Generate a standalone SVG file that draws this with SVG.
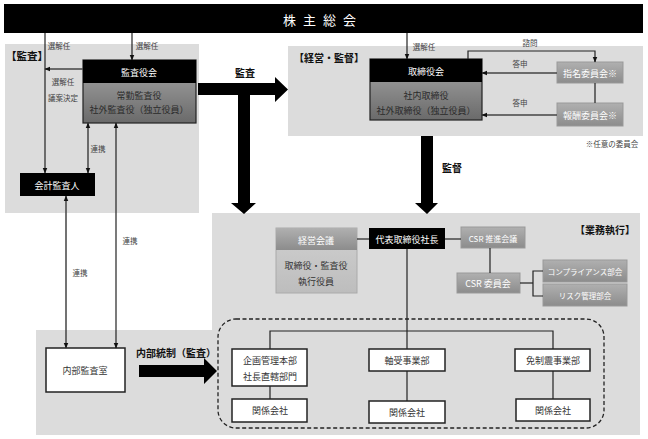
<svg xmlns="http://www.w3.org/2000/svg" width="648" height="439" viewBox="0 0 648 439">
<defs>
<marker id="ah" viewBox="0 0 10 10" refX="9" refY="5" markerWidth="6" markerHeight="6" orient="auto-start-reverse" markerUnits="userSpaceOnUse"><path d="M0,1 L10,5 L0,9 Z" fill="#111"/></marker>
<linearGradient id="g1" x1="0" y1="0" x2="0" y2="1"><stop offset="0" stop-color="#b0b0b0"/><stop offset="1" stop-color="#8c8c8c"/></linearGradient>
<linearGradient id="g2" x1="0" y1="0" x2="0" y2="1"><stop offset="0" stop-color="#a8a8a8"/><stop offset="1" stop-color="#6a6a6a"/></linearGradient>
<linearGradient id="g3" x1="0" y1="0" x2="0" y2="1"><stop offset="0" stop-color="#d0d0d0"/><stop offset="1" stop-color="#bdbdbd"/></linearGradient>
<style>
text{font-family:"Noto Sans CJK JP","Noto Sans",sans-serif;font-size:9px;fill:#333;text-anchor:middle;dominant-baseline:central}
.w{fill:#fff}
.b{font-weight:bold;font-size:10px;fill:#111}
.s{font-size:7.5px;fill:#444}
.l{fill:none;stroke:#222;stroke-width:1.2}
.lg{fill:none;stroke:#444;stroke-width:1.5}
.blk{fill:#000}
.gb{fill:url(#g1);stroke:#999;stroke-width:1}
.wb{fill:#fff;stroke:#222;stroke-width:1.5}
.panel{fill:#dcdcdc}
</style>
</defs>

<!-- panels -->
<rect class="panel" x="5" y="44" width="194" height="169"/>
<rect class="panel" x="288" y="46" width="355" height="90"/>
<path class="panel" d="M212,213 H640 V435 H36 V330 H212 Z"/>
<text class="b" x="27" y="55" style="font-size:10.5px">【監査】</text>
<text class="b" x="329" y="57">【経営・監督】</text>
<text class="b" x="605" y="229">【業務執行】</text>
<text class="s" x="612" y="143">※任意の委員会</text>

<g id="shareholders">
<rect class="blk" x="4" y="4" width="639" height="29"/>
<text class="w" x="323" y="19" style="font-size:13px;letter-spacing:7px">株主総会</text>
</g>

<g id="kansayakukai">
<rect x="83" y="60" width="113" height="63" fill="url(#g2)" stroke="#222" stroke-width="1.2"/>
<rect class="blk" x="83" y="60" width="113" height="23"/>
<text class="w" x="139" y="72">監査役会</text>
<text x="139" y="95" style="fill:#2a2a2a">常勤監査役</text>
<text x="139" y="109" style="fill:#2a2a2a">社外監査役（独立役員）</text>
</g>

<g id="kaikei">
<rect class="blk" x="20" y="173" width="75" height="23"/>
<text class="w" x="57" y="185">会計監査人</text>
</g>

<g id="torishimariyakukai">
<rect x="370" y="59" width="112" height="61" fill="url(#g2)" stroke="#222" stroke-width="1.2"/>
<rect class="blk" x="370" y="59" width="112" height="23"/>
<text class="w" x="426" y="71">取締役会</text>
<text x="426" y="95" style="fill:#2a2a2a">社内取締役</text>
<text x="426" y="110" style="fill:#2a2a2a">社外取締役（独立役員）</text>
</g>

<g id="shimei">
<rect class="gb" x="557" y="62" width="66" height="21"/>
<text class="w" x="590" y="73">指名委員会※</text>
</g>
<g id="houshu">
<rect class="gb" x="557" y="103" width="66" height="23"/>
<text class="w" x="590" y="115">報酬委員会※</text>
</g>

<g id="keieikaigi">
<rect x="276" y="228" width="81" height="65" fill="url(#g3)" stroke="#aaa" stroke-width="1"/>
<rect x="276" y="228" width="81" height="22" fill="url(#g1)"/>
<text class="w" x="316" y="240">経営会議</text>
<text x="316" y="265">取締役・監査役</text>
<text x="316" y="281">執行役員</text>
</g>

<g id="president">
<rect class="blk" x="369" y="228" width="76" height="21"/>
<text class="w" x="407" y="239">代表取締役社長</text>
</g>

<g id="csrsuishin">
<rect class="gb" x="461" y="227" width="64" height="21"/>
<text class="w" x="493" y="238" style="font-size:8px">CSR 推進会議</text>
</g>
<g id="csriinkai">
<rect class="gb" x="457" y="273" width="63" height="20"/>
<text class="w" x="488" y="283">CSR 委員会</text>
</g>
<g id="compliance">
<rect class="gb" x="543" y="260" width="84" height="22"/>
<text class="w" x="585" y="271" style="font-size:7.5px">コンプライアンス部会</text>
</g>
<g id="risk">
<rect class="gb" x="543" y="284" width="84" height="22"/>
<text class="w" x="585" y="295" style="font-size:7.5px">リスク管理部会</text>
</g>

<g id="naibukansa">
<rect class="wb" x="46" y="348" width="79" height="44"/>
<text x="85" y="370">内部監査室</text>
</g>

<g id="kikaku">
<rect class="wb" x="232" y="349" width="75" height="37"/>
<text x="270" y="360">企画管理本部</text>
<text x="270" y="376">社長直轄部門</text>
</g>
<g id="kankei1">
<rect class="wb" x="232" y="399" width="75" height="23"/>
<text x="270" y="410">関係会社</text>
</g>
<g id="jikuuke">
<rect class="wb" x="369" y="349" width="76" height="22"/>
<text x="407" y="360">軸受事業部</text>
</g>
<g id="kankei2">
<rect class="wb" x="369" y="401" width="76" height="22"/>
<text x="407" y="412">関係会社</text>
</g>
<g id="menshin">
<rect class="wb" x="515" y="349" width="75" height="22"/>
<text x="553" y="360">免制震事業部</text>
</g>
<g id="kankei3">
<rect class="wb" x="516" y="399" width="74" height="22"/>
<text x="553" y="410">関係会社</text>
</g>

<g id="connectors">
<!-- audit side -->
<line class="l" x1="45" y1="33" x2="45" y2="173" marker-end="url(#ah)"/>
<line class="l" x1="132" y1="33" x2="132" y2="60" marker-end="url(#ah)"/>
<line class="lg" x1="83" y1="69" x2="45" y2="69" marker-end="url(#ah)"/>
<line class="lg" x1="88" y1="123" x2="88" y2="173" marker-start="url(#ah)" marker-end="url(#ah)"/>
<line class="lg" x1="66" y1="196" x2="66" y2="348" marker-start="url(#ah)" marker-end="url(#ah)"/>
<line class="l" x1="116" y1="123" x2="116" y2="348" marker-start="url(#ah)" marker-end="url(#ah)"/>
<text class="s" x="59" y="45">選解任</text>
<text class="s" x="147" y="45">選解任</text>
<text class="s" x="63" y="81">選解任</text>
<text class="s" x="63" y="97">議案決定</text>
<text class="s" x="98" y="148">連携</text>
<text class="s" x="80" y="272">連携</text>
<text class="s" x="130" y="240">連携</text>

<!-- board side -->
<line class="l" x1="407" y1="33" x2="407" y2="59" marker-end="url(#ah)"/>
<text class="s" x="424" y="46">選解任</text>
<polyline class="l" points="468,59 468,51 595,51 595,62" marker-end="url(#ah)"/>
<text class="s" x="530" y="42">諮問</text>
<line class="lg" x1="557" y1="73" x2="482" y2="73" marker-end="url(#ah)"/>
<text class="s" x="520" y="63">答申</text>
<line class="lg" x1="557" y1="115" x2="482" y2="115" marker-end="url(#ah)"/>
<text class="s" x="520" y="102">答申</text>
<line class="lg" x1="595" y1="83" x2="595" y2="103"/>

<!-- big arrows -->
<path class="blk" d="M198,83 H275 V77 L288,89.5 L275,102 V95 H250 V203 H256 L244,214 L231,203 H238 V95 H198 Z"/>
<text class="b" x="245" y="72">監査</text>
<path class="blk" d="M421,136 H433 V203 H438 L427,214 L415,203 H421 Z"/>
<text class="b" x="452" y="167">監督</text>
<path class="blk" d="M139,365 H204 V358 L217,371 L204,384 V377 H139 Z"/>
<text class="b" x="176" y="352">内部統制（監査）</text>

<!-- execution -->
<line class="l" x1="357" y1="239" x2="369" y2="239"/>
<line class="l" x1="445" y1="239" x2="461" y2="239"/>
<line class="l" x1="490" y1="248" x2="490" y2="273"/>
<polyline class="l" points="520,283 533,283"/>
<polyline class="l" points="543,271 533,271 533,296 543,296"/>
<line class="l" x1="407" y1="249" x2="407" y2="349"/>
<polyline class="l" points="270,349 270,331 553,331 553,349"/>
<line class="l" x1="270" y1="386" x2="270" y2="399"/>
<line class="l" x1="407" y1="371" x2="407" y2="401"/>
<line class="l" x1="553" y1="371" x2="553" y2="399"/>
<rect x="218" y="319" width="386" height="109" rx="18" fill="none" stroke="#222" stroke-width="1.3" stroke-dasharray="4,2.5"/>
</g>
</svg>
